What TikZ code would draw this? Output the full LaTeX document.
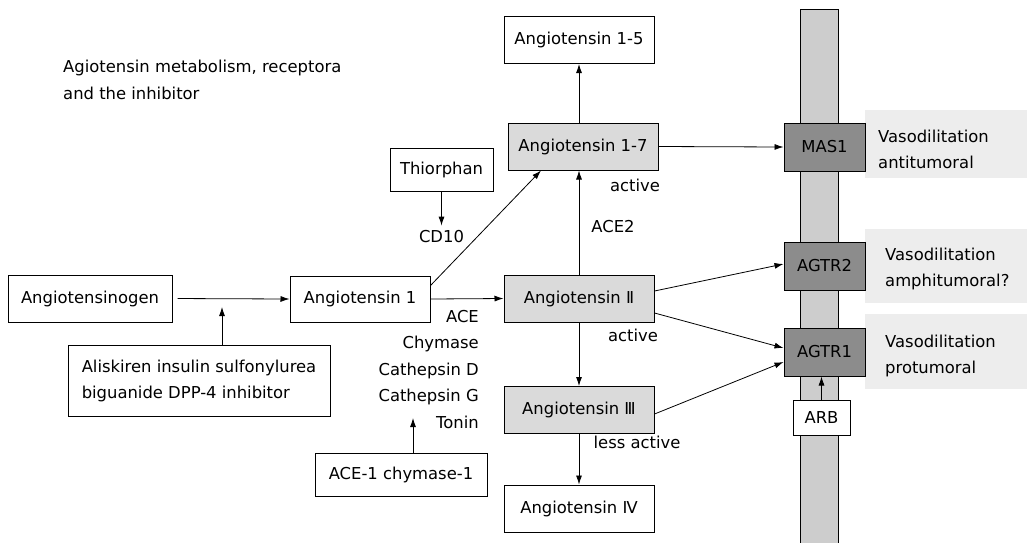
\documentclass[tikz,border=0pt]{standalone}
\usepackage{fontspec}
\setmainfont{DejaVu Sans}
\usetikzlibrary{arrows.meta}
\definecolor{pGray}{HTML}{DADADA}
\definecolor{rGray}{HTML}{8C8C8C}
\definecolor{mGray}{HTML}{CDCDCD}
\definecolor{tGray}{HTML}{EDEDED}

\begin{document}
\begin{tikzpicture}[x=1pt,y=-1pt,>={Latex[length=9pt,width=6pt]}]
	\tikzstyle{BOX} = [draw, line width=1pt, inner sep=0pt, font=\fontsize{16.4}{26}\selectfont]
	\tikzstyle{WIDE} = [BOX, minimum width=150pt, minimum height=47pt]
	\tikzstyle{plain} = [BOX, fill=white]
	\tikzstyle{peptide} = [WIDE, fill=pGray]
	\tikzstyle{product} = [WIDE, fill=white]
	\tikzstyle{receptor} = [BOX, fill=rGray, minimum width=81pt, minimum height=48pt]
	\tikzstyle{txt} = [inner sep=0pt, font=\fontsize{16.4}{26}\selectfont]
	\tikzstyle{link} = [->, line width=0.8pt]

	\useasboundingbox (0,0) rectangle (1027,542);

	% membrane and effect backgrounds
	\filldraw[fill=mGray, line width=0.8pt] (800,545) -- (800,9) -- (838,9) -- (838,545);
	\fill[tGray] (865,110) rectangle (1027,178);
	\fill[tGray] (865,229) rectangle (1027,303);
	\fill[tGray] (865,314) rectangle (1027,389);

	\node[txt, anchor=north west, align=left, font=\fontsize{16.4}{27}\selectfont] (title) at (63,60) {Agiotensin metabolism, receptora\\and the inhibitor};

	\node[plain, minimum width=164pt, minimum height=47pt] (agen) at (90,298.5) {Angiotensinogen};
	\node[plain, minimum width=140pt, minimum height=46pt] (aOne) at (360,299) {Angiotensin 1};
	\node[plain, minimum width=262pt, minimum height=71pt, align=left] (alis) at (199,380.5) {Aliskiren insulin sulfonylurea\\biguanide DPP-4 inhibitor};
	\node[plain, minimum width=172pt, minimum height=43pt] (aceOne) at (401,474.5) {ACE-1 chymase-1};
	\node[plain, minimum width=103pt, minimum height=43pt] (thio) at (441.5,169.5) {Thiorphan};
	\node[txt] (cdTen) at (441.5,237) {CD10};

	\node[product] (aFive) at (579,40) {Angiotensin 1-5};
	\node[peptide] (aSeven) at (583,146.5) {Angiotensin 1-7};
	\node[peptide] (aTwo) at (579,298.5) {Angiotensin Ⅱ};
	\node[peptide] (aThree) at (579,410) {Angiotensin Ⅲ};
	\node[product] (aFour) at (579,508.5) {Angiotensin Ⅳ};

	\node[receptor] (mas) at (824.5,147) {MAS1};
	\node[receptor] (atTwo) at (824.5,266) {AGTR2};
	\node[receptor] (atOne) at (824.5,352) {AGTR1};
	\node[plain, minimum width=57pt, minimum height=35pt] (arb) at (821.5,417.5) {ARB};

	\node[txt, anchor=north east, align=right, font=\fontsize{16.4}{26.5}\selectfont] (enz) at (479,310) {ACE\\Chymase\\Cathepsin D\\Cathepsin G\\Tonin};
	\node[txt] (aceTwo) at (613,227) {ACE2};
	\node[txt] (actSeven) at (635,185) {active};
	\node[txt] (actTwo) at (633,335) {active};
	\node[txt] (actThree) at (637,442) {less active};

	\node[txt, anchor=north west, align=left, font=\fontsize{16.4}{25.5}\selectfont] (eMas) at (878,130) {Vasodilitation\\antitumoral};
	\node[txt, anchor=north west, align=left, font=\fontsize{16.4}{25.5}\selectfont] (eTwo) at (885,248) {Vasodilitation\\amphitumoral?};
	\node[txt, anchor=north west, align=left, font=\fontsize{16.4}{25.5}\selectfont] (eOne) at (885,335) {Vasodilitation\\protumoral};

	\coordinate (inh) at (222,307);
	\coordinate (enzTip) at (413,418);

	\draw[link, shorten <=5pt] (agen.east) -- (aOne.west);
	\draw[link] (inh |- alis.north) -- (inh);
	\draw[link] (aOne.east) -- (aTwo.west);
	\draw[link] ([yshift=-10pt]aOne.north east) -- ([xshift=-42pt]aSeven.south);
	\draw[link] (thio.south) -- ([yshift=5pt]cdTen.north);
	\draw[link] (enzTip |- aceOne.north) -- (enzTip);
	\draw[link] (aFive.south |- aSeven.north) -- (aFive.south);
	\draw[link] (aTwo.north) -- (aTwo.north |- aSeven.south);
	\draw[link] (aSeven.east) -- (mas.west);
	\draw[link] ([yshift=7.5pt]aTwo.east) -- ([yshift=2pt]atTwo.west);
	\draw[link] ([yshift=-14.5pt]aTwo.east) -- ([yshift=4pt]atOne.west);
	\draw[link] ([yshift=-4pt]aThree.east) -- ([yshift=-10pt]atOne.west);
	\draw[link] (aTwo.south) -- (aThree.north);
	\draw[link] (aThree.south) -- (aFour.north);
	\draw[link] (arb.north) -- (arb.north |- atOne.south);
\end{tikzpicture}
\end{document}
